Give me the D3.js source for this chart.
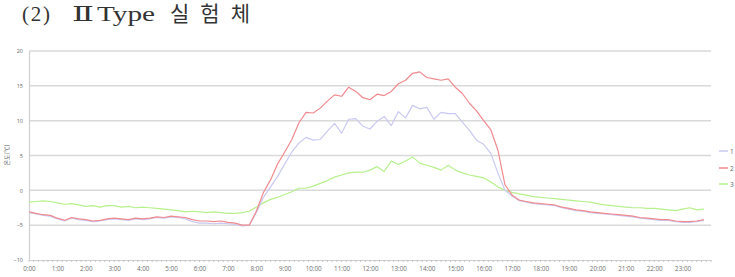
<!DOCTYPE html>
<html><head><meta charset="utf-8">
<script src="https://cdn.jsdelivr.net/npm/d3@7"></script>
<style>body{margin:0;background:#fff;} svg{display:block;}</style>
</head><body>
<svg id="c" width="735" height="277"></svg>
<script>
// 15-minute samples, 0:00 .. 23:45
const stepMinutes = 15;
const hourLabels = d3.range(0, 24).map(h => h + ":00");
const yTicks = [-10, -5, 0, 5, 10, 15, 20];
const seriesNames = ["1", "2", "3"];
const seriesRed = [
 -3.1,-3.3,-3.5,-3.6, -4.0,-4.3,-3.9,-4.1, -4.2,-4.4,-4.3,-4.1, -4.0,-4.1,-4.2,-4.0,
 -4.1,-4.0,-3.8,-3.9, -3.7,-3.8,-3.9,-4.2, -4.4,-4.4,-4.5,-4.4, -4.6,-4.7,-5.0,-5.0,
 -3.0,-0.3,1.5,3.8, 5.5,7.3,9.7,11.2, 11.1,11.8,12.8,13.7, 13.5,14.8,14.2,13.3,
 13.0,13.8,13.6,14.2, 15.3,15.8,16.8,17.0, 16.2,16.0,15.8,16.0, 14.8,13.9,12.5,11.4,
 10.0,8.7,5.8,0.8, -0.7,-1.4,-1.6,-1.8, -1.9,-2.0,-2.1,-2.4, -2.6,-2.8,-2.9,-3.1,
 -3.2,-3.3,-3.4,-3.5, -3.6,-3.7,-3.9,-4.0, -4.1,-4.2,-4.2,-4.4, -4.5,-4.5,-4.4,-4.2
];
const seriesLavender = [
 -3.2,-3.4,-3.6,-3.7, -4.1,-4.4,-4.0,-4.2, -4.3,-4.5,-4.4,-4.2, -4.1,-4.2,-4.3,-4.1,
 -4.2,-4.1,-3.9,-4.0, -3.8,-3.9,-4.1,-4.5, -4.7,-4.7,-4.8,-4.7, -4.8,-4.9,-5.1,-5.0,
 -3.2,-1.0,0.5,2.0, 3.8,5.5,6.8,7.6, 7.2,7.3,8.5,9.6, 8.2,10.2,10.3,9.2,
 8.8,9.9,10.6,9.3, 11.3,10.4,12.2,11.7, 11.9,10.2,11.2,11.0, 11.0,9.8,8.6,7.2,
 6.6,5.3,2.5,0.0, -0.8,-1.5,-1.7,-1.9, -2.0,-2.1,-2.2,-2.5, -2.7,-2.9,-3.0,-3.2,
 -3.3,-3.4,-3.5,-3.6, -3.7,-3.8,-4.0,-4.1, -4.2,-4.3,-4.3,-4.5, -4.6,-4.6,-4.5,-4.3
];
const seriesGreen = [
 -1.7,-1.6,-1.5,-1.6, -1.8,-2.0,-1.9,-2.1, -2.3,-2.2,-2.4,-2.2, -2.2,-2.4,-2.3,-2.5,
 -2.4,-2.5,-2.6,-2.7, -2.8,-2.9,-3.1,-3.0, -3.1,-3.2,-3.1,-3.2, -3.3,-3.3,-3.2,-3.0,
 -2.4,-1.8,-1.3,-1.0, -0.6,-0.2,0.3,0.3, 0.6,1.0,1.4,1.9, 2.2,2.5,2.6,2.6,
 2.9,3.4,2.7,4.2, 3.7,4.2,4.8,3.9, 3.6,3.3,2.9,3.6, 2.9,2.5,2.2,2.0,
 1.8,1.2,0.5,0.0, -0.3,-0.5,-0.7,-0.9, -1.0,-1.1,-1.2,-1.3, -1.4,-1.5,-1.6,-1.7,
 -1.9,-2.1,-2.2,-2.3, -2.4,-2.5,-2.5,-2.6, -2.6,-2.7,-2.8,-2.9, -2.7,-2.5,-2.8,-2.7
];
const seriesColors = ["#c9c9f2", "#f08a8f", "#b6f08c"];

const svg = d3.select("#c");
const x = d3.scaleLinear().domain([0, 24 * 60]).range([29, 711]);
const y = d3.scaleLinear().domain([-10, 20]).range([260, 51]);

// title
const titleFont = "'Liberation Serif','DejaVu Serif','Noto Sans CJK KR',serif";
[["(2)", 22, 28, "spacing"], ["Ⅱ", 72, 22, "spacingAndGlyphs"], ["Type", 97, 58, "spacingAndGlyphs"], ["실험체", 170, 80, "spacing"]].forEach(([t, tx, tl, adj]) => {
  svg.append("text").attr("x", tx).attr("y", 21)
    .attr("textLength", tl).attr("lengthAdjust", adj)
    .style("font-family", titleFont).style("font-size", "21px").attr("fill", "#333")
    .text(t);
});

// gridlines
svg.append("g").selectAll("line").data(yTicks.filter(v => v !== -10)).join("line")
  .attr("x1", 29).attr("x2", 711)
  .attr("y1", d => y(d)).attr("y2", d => y(d))
  .attr("stroke", "#d9d9d9").attr("stroke-width", 1.5);

// y axis
const yAxis = d3.axisLeft(y).tickValues(yTicks).tickSize(0).tickPadding(6);
const gy = svg.append("g").attr("transform", "translate(29,0)").call(yAxis);
gy.select(".domain").attr("stroke", "#d0d0d0").attr("stroke-width", 1.2);
gy.selectAll("text").style("font-family", "'Open Sans',sans-serif").style("font-size", "5.5px").attr("fill", "#666");

// x axis
const hourTicks = d3.range(0, 24).map(h => h * 60);
const xAxis = d3.axisBottom(x).tickValues(hourTicks).tickFormat((d, i) => hourLabels[i]).tickSize(0).tickPadding(7);
const gx = svg.append("g").attr("transform", "translate(0,260)").call(xAxis);
gx.select(".domain").attr("stroke", "#d0d0d0").attr("stroke-width", 1.2);
gx.selectAll("text").style("font-family", "'Open Sans',sans-serif").style("font-size", "6.3px").attr("fill", "#707070");
// minor ticks every 10 min
svg.append("g").selectAll("line").data(d3.range(0, 24 * 60 + 1, 10)).join("line")
  .attr("x1", d => x(d)).attr("x2", d => x(d)).attr("y1", 260).attr("y2", 262)
  .attr("stroke", "#bbb").attr("stroke-width", 0.8);

// y label
svg.append("text").attr("transform", "translate(9,155) rotate(-90)")
  .attr("text-anchor", "middle")
  .style("font-family", "'Noto Sans CJK KR',sans-serif").style("font-size", "6px").attr("fill", "#666")
  .text("온도(℃)");

// lines
const allSeries = [seriesLavender, seriesRed, seriesGreen];
const line = d3.line().x((d, i) => x(i * stepMinutes)).y(d => y(d));
const drawOrder = [2, 0, 1];
drawOrder.forEach(k => {
  svg.append("path").datum(allSeries[k]).attr("d", line)
    .attr("fill", "none").attr("stroke", seriesColors[k]).attr("stroke-width", 1.2)
    .attr("stroke-linejoin", "round");
});

// legend
const lg = svg.append("g");
[151, 168, 184].forEach((yy, i) => {
  lg.append("line").attr("x1", 719).attr("x2", 728).attr("y1", yy).attr("y2", yy)
    .attr("stroke", seriesColors[i]).attr("stroke-width", 1.5);
  lg.append("text").attr("x", 730).attr("y", yy + 2.5)
    .style("font-family", "'Open Sans',sans-serif").style("font-size", "6.5px").attr("fill", "#666")
    .text(seriesNames[i]);
});
</script>
</body></html>
